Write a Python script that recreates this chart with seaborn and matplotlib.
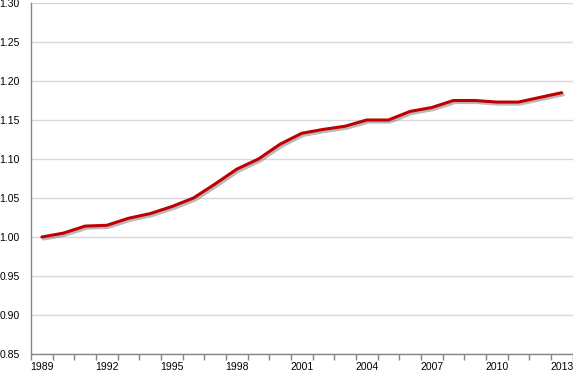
import numpy as np
import pandas as pd
import matplotlib
matplotlib.use("Agg")
import matplotlib.pyplot as plt
import matplotlib.patheffects as pe
import seaborn as sns

# values
years = list(range(1989, 2014))
index_values = [1.000, 1.005, 1.014, 1.015, 1.024, 1.030, 1.039, 1.050, 1.068, 1.087,
                1.100, 1.119, 1.133, 1.138, 1.142, 1.150, 1.150, 1.161, 1.166, 1.175,
                1.175, 1.173, 1.173, 1.179, 1.185]
xtick_years = [1989, 1992, 1995, 1998, 2001, 2004, 2007, 2010, 2013]
ytick_values = [0.85, 0.90, 0.95, 1.00, 1.05, 1.10, 1.15, 1.20, 1.25, 1.30]

df = pd.DataFrame({"year": years, "value": index_values})

sns.set_style("white")
plt.rcParams["font.family"] = ["Liberation Sans", "DejaVu Sans"]

fig = plt.figure(figsize=(5.73, 3.72), dpi=100)
ax = fig.add_axes([31 / 573, 18 / 372, 541.5 / 573, 351 / 372])

sns.lineplot(data=df, x="year", y="value", ax=ax, color="#C00000", linewidth=2.2,
             path_effects=[pe.SimpleLineShadow(offset=(1.2, -1.5), shadow_color="#808080", alpha=0.55),
                           pe.Normal()])

ax.set_xlim(1988.5, 2013.5)
ax.set_ylim(0.85, 1.30)
ax.set_yticks(ytick_values)
ax.set_yticklabels([f"{v:.2f}" for v in ytick_values])
ax.set_xticks(xtick_years)
ax.set_xticklabels([str(y) for y in xtick_years])
ax.set_xticks(np.arange(1988.5, 2014, 1), minor=True)

ax.grid(axis="y", color="#d9d9d9", linewidth=1)
ax.set_axisbelow(True)
ax.set_xlabel("")
ax.set_ylabel("")

for side in ["top", "right"]:
    ax.spines[side].set_visible(False)
for side in ["left", "bottom"]:
    ax.spines[side].set_color("#868686")
    ax.spines[side].set_linewidth(1)

ax.tick_params(axis="y", length=0, pad=8, labelsize=7.5, labelcolor="#000000")
ax.tick_params(axis="x", which="major", length=0, pad=6, labelsize=7.5, labelcolor="#000000")
ax.tick_params(axis="x", which="minor", direction="out", length=4, width=1, color="#868686", bottom=True)

fig.savefig("out.png", dpi=100)
